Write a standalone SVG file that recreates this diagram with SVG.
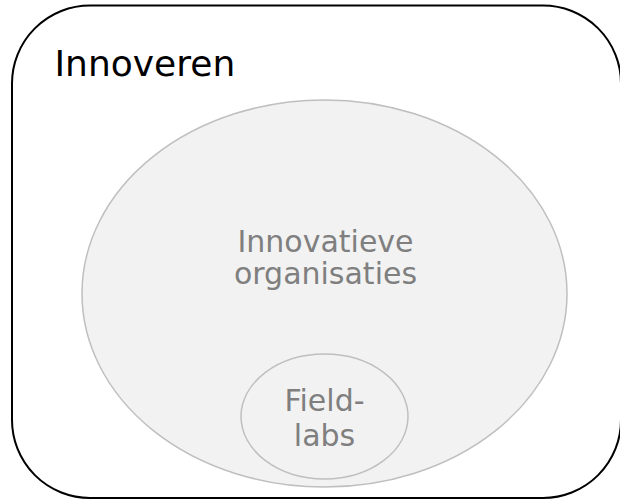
<svg xmlns="http://www.w3.org/2000/svg" width="620" height="500" viewBox="0 0 620 500">
<style>
.t{font-family:"DejaVu Sans",Verdana,sans-serif;fill:#7f7f7f;text-anchor:middle;font-size:30px}
.e{fill:#f2f2f2;stroke:#bfbfbf;stroke-width:1.5}
</style>
<rect width="620" height="500" fill="#ffffff"/>
<g id="innoveren">
<rect x="12" y="5.5" width="609" height="492.5" rx="78" ry="78" fill="#ffffff" stroke="#000000" stroke-width="2"/>
<text x="54.5" y="76" font-family="DejaVu Sans, Verdana, sans-serif" font-size="36" fill="#000000">Innoveren</text>
</g>
<g id="organisaties">
<ellipse class="e" cx="324.5" cy="293.5" rx="242.5" ry="193.5"/>
<text class="t" x="325.5" y="252.3">Innovatieve</text>
<text class="t" x="325.5" y="284">organisaties</text>
</g>
<g id="fieldlabs">
<ellipse class="e" cx="324.5" cy="416.5" rx="83.5" ry="62.5"/>
<text class="t" x="324.5" y="410.7">Field-</text>
<text class="t" x="324.5" y="445.7">labs</text>
</g>
<g id="connectors"/>
</svg>
